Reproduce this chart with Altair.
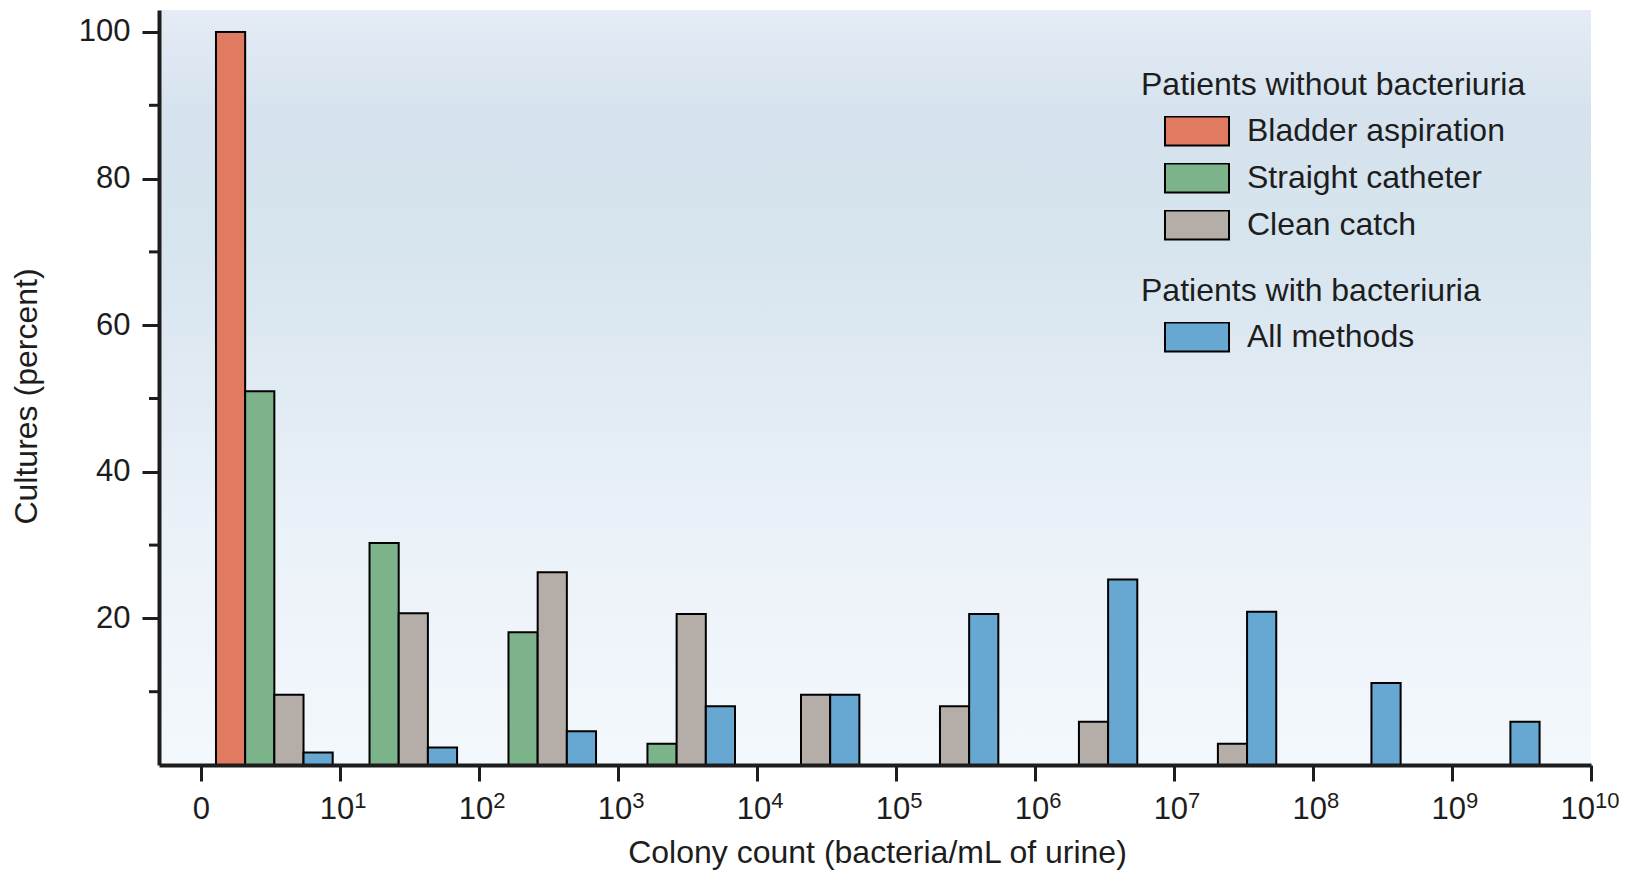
import altair as alt
import pandas as pd

# ---------------- data ----------------
# interval index k: bars drawn between tick k and k+1 (tick 0 = "0", tick k = 10^k)
interval_index = [0, 1, 2, 3, 4, 5, 6, 7, 8, 9]
bladder_aspiration = [100.0, 0, 0, 0, 0, 0, 0, 0, 0, 0]
straight_catheter = [51.0, 30.3, 18.1, 2.9, 0, 0, 0, 0, 0, 0]
clean_catch = [9.6, 20.7, 26.3, 20.6, 9.6, 8.0, 5.9, 2.9, 0, 0]
all_methods = [1.7, 2.4, 4.6, 8.0, 9.6, 20.6, 25.3, 20.9, 11.2, 5.9]

series_names = ["Bladder aspiration", "Straight catheter", "Clean catch", "All methods"]
series_colors = ["#e07b62", "#7cb38b", "#b4ada8", "#66a8d2"]
group_without = "Patients without bacteriuria"
group_with = "Patients with bacteriuria"

tick_exponents = [0, 1, 2, 3, 4, 5, 6, 7, 8, 9, 10]
y_major = [20, 40, 60, 80, 100]
y_minor = [10, 30, 50, 70, 90]

# ---------------- layout parameters ----------------
W, H = 1432, 755
X_MIN, X_MAX = -0.305, 10
Y_MAX = 103
GROUP_CENTER = 0.525  # centre of a bar group inside its interval
BAR_W = 0.21          # bar width in interval units
FONT = "Liberation Sans"
TXT = "#1d1d1d"

rows = []
all_series = [bladder_aspiration, straight_catheter, clean_catch, all_methods]
for i, k in enumerate(interval_index):
    present = [(n, s[i]) for n, s in zip(series_names, all_series) if s[i] > 0]
    start = k + GROUP_CENTER - len(present) * BAR_W / 2
    for j, (name, val) in enumerate(present):
        rows.append({
            "series": name,
            "value": val,
            "base": 0,
            "x0": start + j * BAR_W,
            "x1": start + (j + 1) * BAR_W,
            "group": group_with if name == "All methods" else group_without,
        })
bars = pd.DataFrame(rows)
bars_a = bars[bars["group"] == group_without]
bars_b = bars[bars["group"] == group_with]

ticks_df = pd.DataFrame({"e": tick_exponents})
ticks_df["base_txt"] = ["0" if e == 0 else "10" for e in tick_exponents]
ticks_df["sup_txt"] = ["" if e == 0 else str(e) for e in tick_exponents]
minor_df = pd.DataFrame({"v": y_minor})

xscale = alt.Scale(domain=[X_MIN, X_MAX], nice=False, zero=False)
yscale = alt.Scale(domain=[0, Y_MAX], nice=False, zero=True)

x_axis = alt.Axis(
    values=tick_exponents, labels=False, grid=False,
    title="Colony count (bacteria/mL of urine)",
    tickSize=16, tickWidth=3, tickColor=TXT,
    domainWidth=4, domainColor=TXT,
    titleFont=FONT, titleFontSize=32, titleFontWeight="normal", titleColor=TXT,
    titleX=718, titleY=97, titleAlign="center", titleBaseline="alphabetic",
    zindex=1,
)
y_axis = alt.Axis(
    values=y_major, grid=False,
    title="Cultures (percent)",
    tickSize=17, tickWidth=3, tickColor=TXT,
    domainWidth=4, domainColor=TXT,
    labelFont=FONT, labelFontSize=31, labelColor=TXT, labelPadding=12,
    titleFont=FONT, titleFontSize=32, titleFontWeight="normal", titleColor=TXT,
    titleX=-133, titleY=386, titleAngle=270, titleAlign="center", titleBaseline="middle",
    zindex=1,
)

rect_path = "M-1,-0.45H1V0.45H-1Z"
legend_common = dict(
    orient="none", direction="vertical", padding=0,
    symbolType=rect_path, symbolSize=4096,
    symbolStrokeColor="black", symbolStrokeWidth=2,
    symbolOffset=23, labelOffset=17, clipHeight=30,
    rowPadding=15, titlePadding=14,
    labelFont=FONT, labelFontSize=32, labelColor=TXT, labelLimit=600,
    titleFont=FONT, titleFontSize=32, titleFontWeight="normal", titleColor=TXT, titleLimit=700,
)

gradient = alt.Gradient(
    gradient="linear", x1=0, x2=0, y1=0, y2=1,
    stops=[
        alt.GradientStop(color="#e5ecf5", offset=0),
        alt.GradientStop(color="#d6e3ee", offset=0.13),
        alt.GradientStop(color="#d6e4ee", offset=0.30),
        alt.GradientStop(color="#dee9f2", offset=0.45),
        alt.GradientStop(color="#e9f0f7", offset=0.65),
        alt.GradientStop(color="#f3f8fc", offset=1.0),
    ],
)

bg = alt.Chart(pd.DataFrame({"a": [0]})).mark_rect(color=gradient).encode(
    x=alt.value(0), x2=alt.value(W), y=alt.value(0), y2=alt.value(H)
)

layer_a = alt.Chart(bars_a).mark_rect(stroke="black", strokeWidth=2).encode(
    x=alt.X("x0:Q", scale=xscale, axis=x_axis),
    x2="x1:Q",
    y=alt.Y("value:Q", scale=yscale, axis=y_axis),
    y2="base:Q",
    color=alt.Color(
        "series:N",
        scale=alt.Scale(domain=series_names[:3], range=series_colors[:3]),
        legend=alt.Legend(title=group_without, legendX=982, legendY=60, **legend_common),
    ),
)

layer_b = alt.Chart(bars_b).mark_rect(stroke="black", strokeWidth=2).encode(
    x=alt.X("x0:Q", scale=xscale, axis=x_axis),
    x2="x1:Q",
    y=alt.Y("value:Q", scale=yscale, axis=y_axis),
    y2="base:Q",
    color=alt.Color(
        "series:N",
        scale=alt.Scale(domain=series_names[3:], range=series_colors[3:]),
        legend=alt.Legend(title=group_with, legendX=982, legendY=266, **legend_common),
    ),
)

minor = alt.Chart(minor_df).mark_rule(color=TXT, strokeWidth=3).encode(
    y=alt.Y("v:Q", scale=yscale, axis=y_axis),
    x=alt.value(-10), x2=alt.value(0),
)

tick_base = alt.Chart(ticks_df)
lab0 = tick_base.transform_filter("datum.e == 0").mark_text(
    align="center", baseline="alphabetic", font=FONT, fontSize=31, color=TXT
).encode(x=alt.X("e:Q", scale=xscale, axis=x_axis), y=alt.value(H + 54), text="base_txt:N")

base1 = tick_base.transform_filter("datum.e > 0 && datum.e < 10").mark_text(
    align="right", baseline="alphabetic", dx=14, font=FONT, fontSize=31, color=TXT
).encode(x=alt.X("e:Q", scale=xscale, axis=x_axis), y=alt.value(H + 54), text="base_txt:N")
sup1 = tick_base.transform_filter("datum.e > 0 && datum.e < 10").mark_text(
    align="left", baseline="alphabetic", dx=14, font=FONT, fontSize=22, color=TXT
).encode(x=alt.X("e:Q", scale=xscale, axis=x_axis), y=alt.value(H + 43), text="sup_txt:N")

base10 = tick_base.transform_filter("datum.e == 10").mark_text(
    align="right", baseline="alphabetic", dx=4, font=FONT, fontSize=31, color=TXT
).encode(x=alt.X("e:Q", scale=xscale, axis=x_axis), y=alt.value(H + 54), text="base_txt:N")
sup10 = tick_base.transform_filter("datum.e == 10").mark_text(
    align="left", baseline="alphabetic", dx=4, font=FONT, fontSize=22, color=TXT
).encode(x=alt.X("e:Q", scale=xscale, axis=x_axis), y=alt.value(H + 43), text="sup_txt:N")

chart = alt.layer(
    bg, layer_a, layer_b, minor, lab0, base1, sup1, base10, sup10
).resolve_scale(color="independent").properties(
    width=W, height=H,
    padding={"left": 151, "top": 2, "right": 36, "bottom": 105},
    autosize=alt.AutoSizeParams(type="none"),
).configure_view(stroke=None)

chart.save("out.html", embed_options={"renderer": "svg", "actions": False})
